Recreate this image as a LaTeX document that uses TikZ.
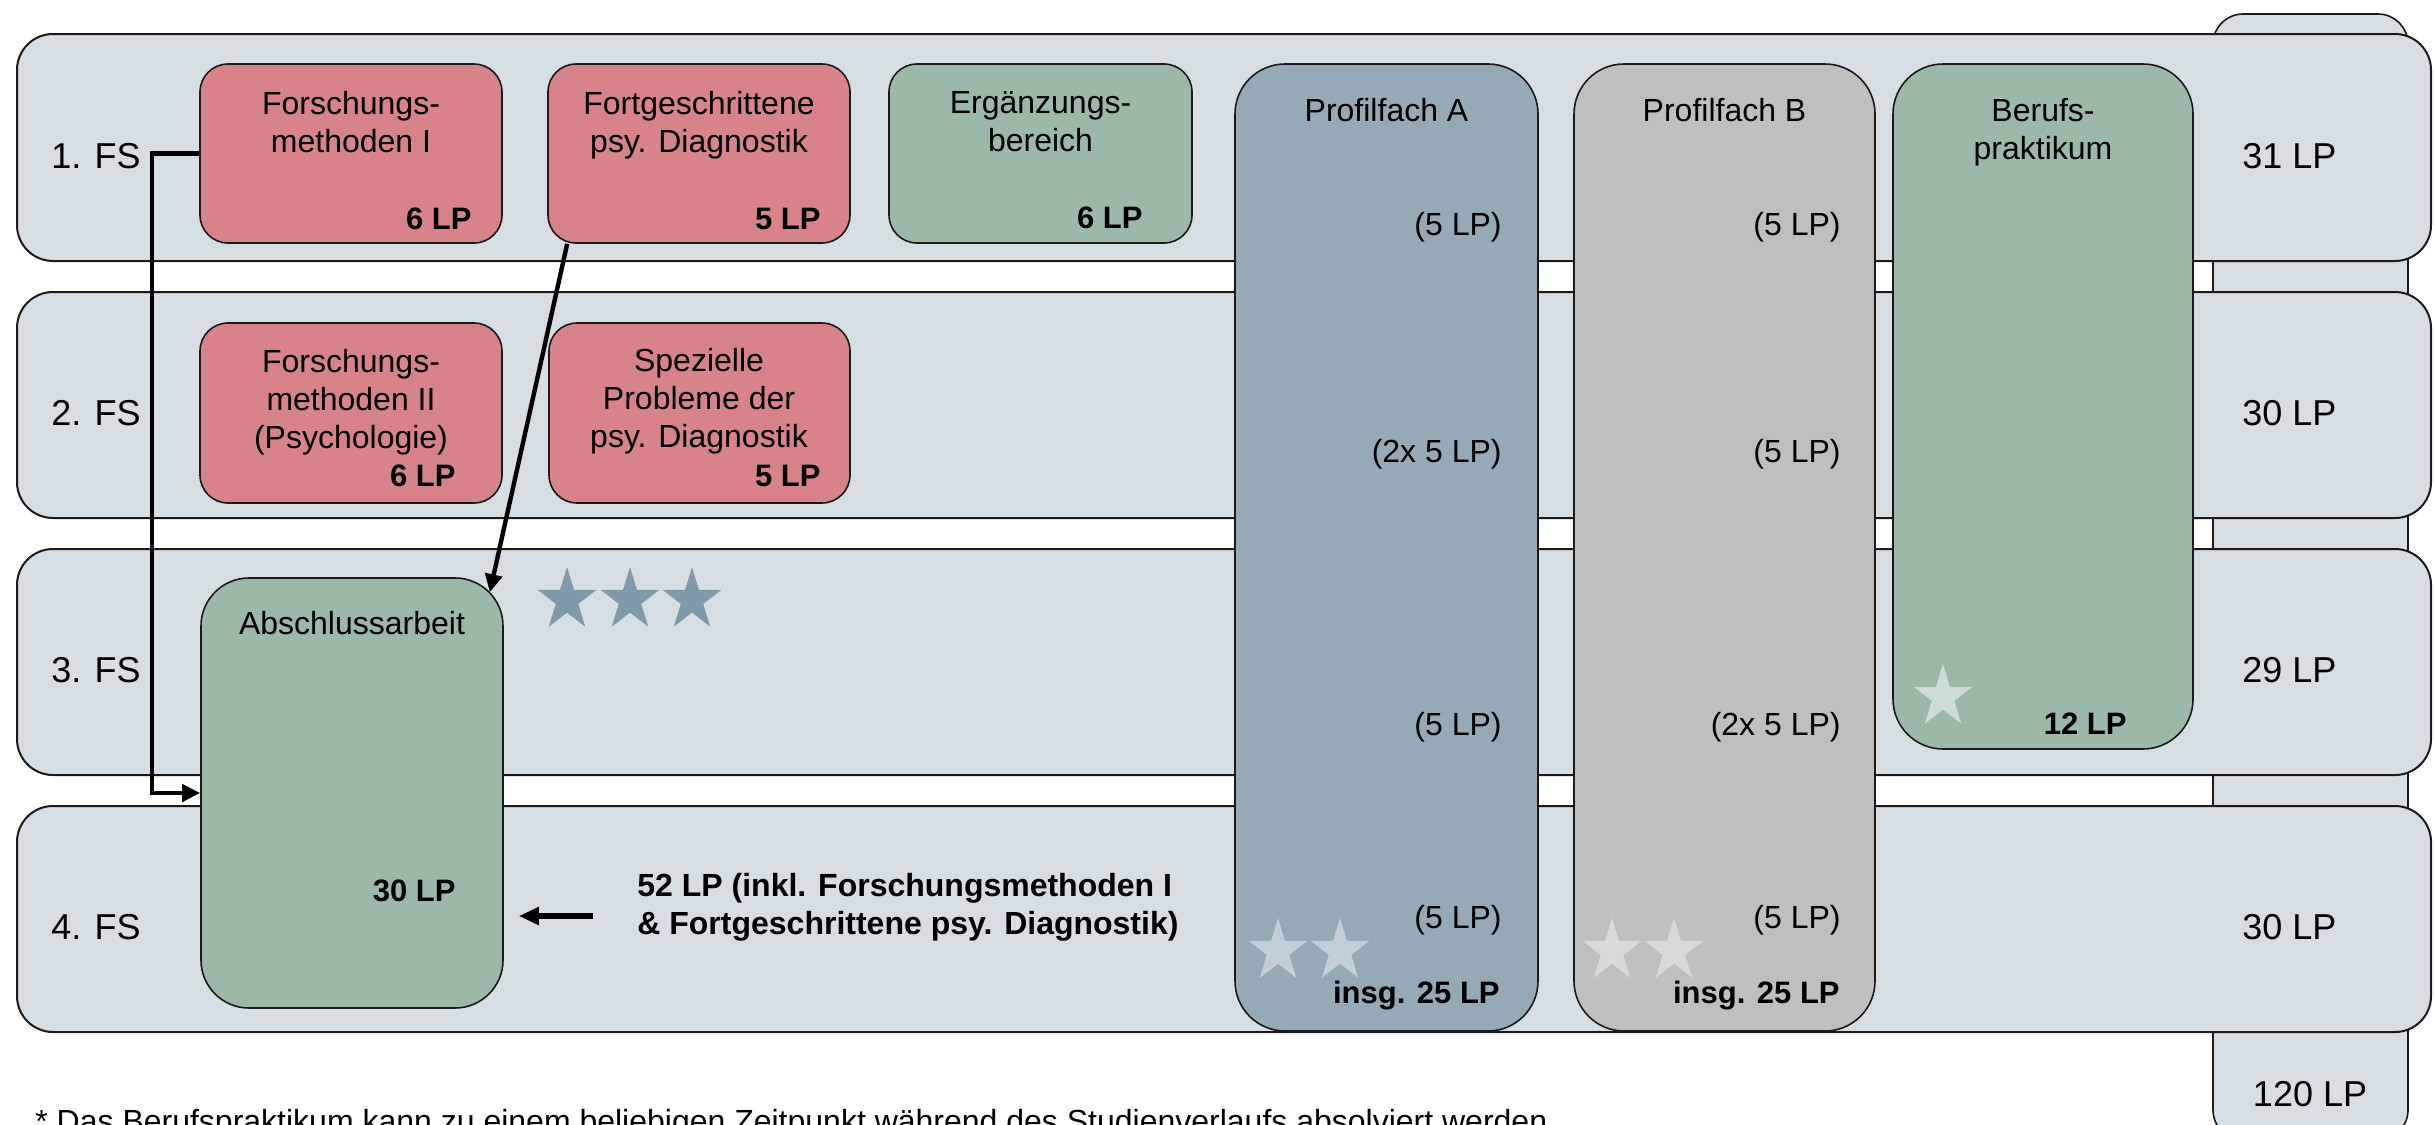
\documentclass[tikz,border=0pt]{standalone}
\usepackage{fontspec}
\setmainfont{Liberation Sans}
\usetikzlibrary{fit,calc,arrows.meta}
\definecolor{rowbg}{HTML}{D6DDE3}
\definecolor{redbox}{HTML}{D88289}
\definecolor{greenbox}{HTML}{9CB8A6}
\definecolor{pfabox}{HTML}{95A9B6}
\definecolor{pfbbox}{HTML}{BFBFBF}
\definecolor{stardark}{HTML}{7F9AAB}
\definecolor{starA}{HTML}{C3CFD8}
\definecolor{starB}{HTML}{D9D9D9}
\definecolor{starG}{HTML}{CCDDD1}
\definecolor{edge}{HTML}{1A1A1A}
\newcommand{\ml}[1]{\begin{tabular}[t]{@{}c@{}}#1\end{tabular}}
\newcommand{\mystar}[3]{\fill[#3] (#1,#2) +(-90:31 and 33) -- +(-54:11.8 and 12.6) -- +(-18:31 and 33) -- +(18:11.8 and 12.6) -- +(54:31 and 33) -- +(90:11.8 and 12.6) -- +(126:31 and 33) -- +(162:11.8 and 12.6) -- +(198:31 and 33) -- +(234:11.8 and 12.6) -- cycle;}
\begin{document}
\begin{tikzpicture}[x=0.5pt,y=-0.5pt,
  rowbox/.style={draw=edge,line width=1pt,fill=rowbg,inner sep=0pt,rounded corners=18pt},
  modbox/.style={draw=edge,line width=0.8pt,inner sep=0pt,rounded corners=14pt},
  tallbox/.style={draw=edge,line width=0.8pt,inner sep=0pt,rounded corners=25pt},
  lbl/.style={font=\fontsize{18}{21}\selectfont,anchor=base west,inner sep=0pt},
  ttl/.style={font=\fontsize{16}{19}\selectfont,anchor=base,inner sep=0pt},
  ttr/.style={font=\fontsize{16}{19}\selectfont,anchor=base east,inner sep=0pt},
  lp/.style={font=\fontsize{15.5}{19}\selectfont\bfseries,anchor=base east,inner sep=0pt},
  conn/.style={draw=black,line width=2.2pt,-{Triangle[length=9pt,width=8.5pt]}}
]
\useasboundingbox (0,0) rectangle (2434,1124);
\clip (0,0) rectangle (2434,1124);
\fill[white] (0,0) rectangle (2434,1124);

% total column (behind rows)
\node[rowbox,line width=0.8pt,rounded corners=15pt,fit={(2213,14) (2408,1140)}] (total) {};

% semester rows
\node[rowbox,fit={(17,34) (2431,261)}] (r1) {};
\node[rowbox,fit={(17,292) (2431,518)}] (r2) {};
\node[rowbox,fit={(17,549) (2431,775)}] (r3) {};
\node[rowbox,fit={(17,806) (2431,1032)}] (r4) {};

% module boxes
\node[modbox,fill=redbox,fit={(200,64) (502,243)}] (fm1) {};
\node[modbox,fill=redbox,fit={(548,64) (850,243)}] (fpd) {};
\node[modbox,fill=greenbox,fit={(889,64) (1192,243)}] (erg) {};
\node[modbox,fill=redbox,fit={(200,323) (502,503)}] (fm2) {};
\node[modbox,fill=redbox,fit={(549,323) (850,503)}] (spd) {};
\node[tallbox,fill=pfabox,fit={(1235,64) (1538,1031)}] (pfa) {};
\node[tallbox,fill=pfbbox,fit={(1574,64) (1875,1031)}] (pfb) {};
\node[tallbox,fill=greenbox,fit={(1893,64) (2193,749)}] (bp) {};
\node[tallbox,fill=greenbox,rounded corners=24pt,fit={(201,578) (503,1008)}] (abs) {};

% stars
\mystar{567}{600}{stardark}
\mystar{630}{600}{stardark}
\mystar{692}{600}{stardark}
\mystar{1278}{951}{starA}
\mystar{1340}{951}{starA}
\mystar{1612}{951}{starB}
\mystar{1674}{951}{starB}
\mystar{1943}{697}{starG}

% semester labels
\node[lbl] (fs1) at (51,168) {1. FS};
\node[lbl] (fs2) at (51,425) {2. FS};
\node[lbl] (fs3) at (51,682) {3. FS};
\node[lbl] (fs4) at (51,939) {4. FS};
\node[lbl] (lp1) at (2242,168) {31 LP};
\node[lbl] (lp2) at (2242,425) {30 LP};
\node[lbl] (lp3) at (2242,682) {29 LP};
\node[lbl] (lp4) at (2242,939) {30 LP};
\node[lbl,anchor=base] (lpt) at (2310,1106) {120 LP};

% module texts
\node[ttl] (fm1t) at (351,114) {\ml{Forschungs-\\methoden I}};
\node[lp] (fm1p) at (472,229) {6 LP};
\node[ttl] (fpdt) at (699,114) {\ml{Fortgeschrittene\\psy. Diagnostik}};
\node[lp] (fpdp) at (821,229) {5 LP};
\node[ttl] (ergt) at (1040.5,113) {\ml{Ergänzungs-\\bereich}};
\node[lp] (ergp) at (1143,228) {6 LP};
\node[ttl] (fm2t) at (351,372) {\ml{Forschungs-\\methoden II\\(Psychologie)}};
\node[lp] (fm2p) at (456,486) {6 LP};
\node[ttl] (spdt) at (699,371) {\ml{Spezielle\\Probleme der\\psy. Diagnostik}};
\node[lp] (spdp) at (821,486) {5 LP};

\node[ttl] (pfat) at (1386.5,121) {Profilfach A};
\node[ttr] (pfa1) at (1502,235) {(5 LP)};
\node[ttr] (pfa2) at (1502,462) {(2x 5 LP)};
\node[ttr] (pfa3) at (1502,735) {(5 LP)};
\node[ttr] (pfa4) at (1502,928) {(5 LP)};
\node[lp] (pfas) at (1500,1003) {insg. 25 LP};

\node[ttl] (pfbt) at (1724.5,121) {Profilfach B};
\node[ttr] (pfb1) at (1841,235) {(5 LP)};
\node[ttr] (pfb2) at (1841,462) {(5 LP)};
\node[ttr] (pfb3) at (1841,735) {(2x 5 LP)};
\node[ttr] (pfb4) at (1841,928) {(5 LP)};
\node[lp] (pfbs) at (1840,1003) {insg. 25 LP};

\node[ttl] (bpt) at (2043,121) {\ml{Berufs-\\praktikum}};
\node[lp] (bpp) at (2127,734) {12 LP};

\node[ttl] (abst) at (352,634) {Abschlussarbeit};
\node[lp] (absp) at (456,901) {30 LP};

\node[font=\fontsize{16}{19}\selectfont\bfseries,anchor=base west,inner sep=0pt] (note) at (637,896)
  {\begin{tabular}[t]{@{}l@{}}52 LP (inkl. Forschungsmethoden I\\\& Fortgeschrittene psy. Diagnostik)\end{tabular}};

\node[font=\fontsize{16}{19}\selectfont,anchor=base west,inner sep=0pt] (foot) at (35,1132)
  {* Das Berufspraktikum kann zu einem beliebigen Zeitpunkt während des Studienverlaufs absolviert werden};

% connectors
\draw[conn] (fm1.west) -- ++(-47,0) |- (abs.west);
\draw[conn] ($(fpd.south west)+(20,0)$) -- ($(abs.north east)+(-14,15)$);
\draw[line width=3pt,-{Triangle[length=10pt,width=8.5pt]}] ($(note.base west)+(-44,20)$) -- ($(abs.east |- note.base west)+(15,20)$);
\end{tikzpicture}
\end{document}
